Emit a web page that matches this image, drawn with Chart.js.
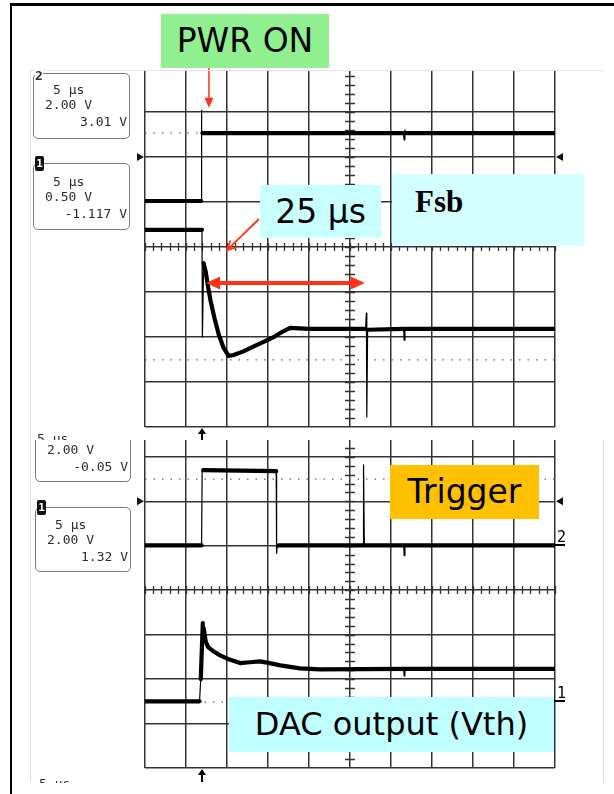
<!DOCTYPE html>
<html>
<head>
<meta charset="utf-8">
<script src="https://cdn.jsdelivr.net/npm/chart.js@4.4.1/dist/chart.umd.min.js"></script>
<style>
html, body { margin: 0; padding: 0; background: #fff; }
#page { position: relative; width: 614px; height: 794px; overflow: hidden; background: #fff; }
canvas { position: absolute; left: 0; }
#topScope { top: 0; }
#botScope { top: 440px; }
.rule { position: absolute; }
.screen { position: absolute; left: 30px; width: 110px; overflow: hidden; }
.info { position: absolute; box-sizing: border-box; border: 1px solid #7a7a7a; border-radius: 5px; background: #fff;
        font: 13px "DejaVu Sans Mono", monospace; color: #2c2c2c; }
.info span, .screen > span { position: absolute; white-space: pre; line-height: 13px; font: 13px "DejaVu Sans Mono", monospace; color: #2c2c2c; }
.chan { position: absolute; width: 9px; height: 15px; background: #111; color: #fff; border-radius: 2px;
        font: bold 11px "DejaVu Sans Mono", monospace; line-height: 15px; text-align: center; }
.note { position: absolute; z-index: 5; font-family: "DejaVu Sans", sans-serif; color: #000; text-align: center; white-space: nowrap; }
</style>
</head>
<body>
<div id="page">
  <canvas id="topScope" width="614" height="440"></canvas>
  <canvas id="botScope" width="614" height="354"></canvas>

  <div class="rule" style="left:10px;top:3px;width:604px;height:3px;background:#000;"></div>
  <div class="rule" style="left:10px;top:3px;width:2px;height:791px;background:#000;"></div>
  <div class="rule" style="left:30px;top:70px;width:574px;height:1px;background:#e4e4e4;"></div>
  <div class="rule" style="left:30px;top:70px;width:1px;height:713px;background:#dcdcdc;"></div>
  <div class="rule" style="left:603px;top:440px;width:1px;height:343px;background:#dcdcdc;"></div>

  <!-- channel info, upper screen -->
  <div class="screen" style="top:70px;height:370px;">
    <div class="info" style="left:3px;top:3px;width:97px;height:66px;">
      <span style="left:19px;top:8px;">5 μs</span>
      <span style="left:11px;top:23px;">2.00 V</span>
      <span style="right:2px;top:40px;">3.01 V</span>
    </div>
    <span style="left:5px;top:-2px;background:#fff;font-weight:bold;">2</span>
    <div class="info" style="left:3px;top:93px;width:97px;height:67px;">
      <span style="left:19px;top:10px;">5 μs</span>
      <span style="left:11px;top:25px;">0.50 V</span>
      <span style="right:2px;top:42px;">-1.117 V</span>
    </div>
    <div class="chan" style="left:5px;top:86px;">1</div>
    <span style="left:7px;top:361px;">5 μs</span>
  </div>

  <!-- channel info, lower screen -->
  <div class="screen" style="top:440px;height:343px;">
    <div class="info" style="left:5px;top:-20px;width:96px;height:62px;">
      <span style="left:11px;top:21px;">2.00 V</span>
      <span style="right:2px;top:38px;">-0.05 V</span>
    </div>
    <div class="info" style="left:5px;top:67px;width:96px;height:65px;">
      <span style="left:19px;top:9px;">5 μs</span>
      <span style="left:11px;top:24px;">2.00 V</span>
      <span style="right:2px;top:41px;">1.32 V</span>
    </div>
    <div class="chan" style="left:7px;top:60px;">1</div>
    <span style="left:9px;top:336px;">5 μs</span>
  </div>

  <div class="note" style="left:161px;top:14px;width:168px;height:54px;line-height:54px;font-size:33px;background:#90f090;">PWR ON</div>
  <div class="note" style="left:260px;top:185px;width:121px;height:53px;line-height:53px;font-size:33px;background:#c8ffff;">25 μs</div>
  <div class="note" style="left:392px;top:174px;width:192px;height:72px;background:#d4ffff;text-align:left;">
    <span style="position:absolute;left:23px;top:12px;font:bold 31px 'Liberation Serif', serif;line-height:31px;">Fsb</span>
  </div>
  <div class="note" style="left:390px;top:465px;width:149px;height:54px;line-height:54px;font-size:33px;background:#ffc000;">Trigger</div>
  <div class="note" style="left:229px;top:697px;width:325px;height:55px;line-height:55px;font-size:32px;background:#c0ffff;">DAC output (Vth)</div>
</div>

<script>
// time base: 5 µs/div, 10 divisions; vertical values are in screen divisions
const TIME_MIN = 0;
const TIME_MAX = 50;
const TIME_STEP = 5;
const DIV_LINES = [-4, -3, -2, -1, 0, 1, 2, 3];

// upper screen, channel 2 (power)
const topPwrT   = [0, 6.85, 6.88, 6.93, 7.0, 31.5, 31.6, 31.7, 31.8, 50];
const topPwrDiv = [1.02, 1.02, 3.04, 2.55, 2.53, 2.53, 2.38, 2.6, 2.53, 2.53];

// upper screen, channel 1 (Fsb)
const topFsbT   = [0, 6.95, 7.0, 7.15, 7.4, 7.7, 8.0, 8.5, 9.0, 9.6, 10.2, 10.8, 12.0, 13.4, 14.6, 15.8, 16.8, 17.7, 20.0,
                   26.9, 27.0, 27.05, 27.15, 31.55, 31.6, 31.7, 50];
const topFsbDiv = [0.38, 0.38, -2.0, -0.36, -0.55, -0.9, -1.2, -1.6, -1.95, -2.25, -2.42, -2.4, -2.32, -2.2, -2.1, -1.99, -1.88, -1.8, -1.82,
                   -1.82, -1.47, -3.78, -1.84, -1.82, -2.07, -1.82, -1.82];

// lower screen, channel 2 (trigger)
const botTrigT   = [0, 6.9, 6.97, 7.1, 16.0, 16.05, 16.1, 16.3, 26.6, 26.65, 26.75, 31.55, 31.6, 31.7, 50];
const botTrigDiv = [1.01, 1.01, 2.72, 2.7, 2.68, 0.83, 0.95, 1.01, 1.01, 2.82, 1.01, 1.01, 0.78, 1.01, 1.01];

// lower screen, channel 1 (DAC output)
const botDacT   = [0, 6.65, 6.8, 7.05, 7.15, 7.4, 7.7, 8.4, 9.1, 10.3, 11.6, 12.8, 14.0, 15.2, 16.5, 18.9, 21.3, 31.55, 31.6, 31.7, 50];
const botDacDiv = [-2.5, -2.5, -2.0, -0.74, -0.85, -1.15, -1.28, -1.38, -1.46, -1.56, -1.64, -1.62, -1.6, -1.64, -1.69, -1.76, -1.78, -1.77, -1.93, -1.77, -1.77];

// dotted reference levels
const topRefDiv = [2.53, -2.51];
const botRefDiv = [2.5, -2.52];

// markers and annotations (µs, div)
const TRIG_T = 6.95;
const GND_MARK_DIV = 2;
const botChanMarks = [['2', 1.01], ['1', -2.5]];
const topArrows = [
  { from: [7.8, 3.98], to: [7.8, 3.09], kind: 'filled' },
  { from: [13.9, 0.62], to: [10.0, -0.07], kind: 'open' },
  { from: [7.45, -0.8], to: [26.8, -0.8], kind: 'double' }
];

const GRID = '#333';
const RED = '#ff3214';

function trace(ts, vs) {
  return {
    data: ts.map((t, i) => ({ x: t, y: vs[i] })),
    showLine: true,
    borderColor: '#000',
    borderWidth: 4.2,
    borderCapStyle: 'round',
    borderJoinStyle: 'round',
    pointRadius: 0,
    segment: {
      borderWidth: c => Math.abs(c.p1.x - c.p0.x) < 1.8 ? 1.2 : 4.2
    }
  };
}

function refLine(v) {
  return {
    data: [{ x: TIME_MIN, y: v }, { x: TIME_MAX, y: v }],
    showLine: true,
    borderColor: '#666',
    borderWidth: 1.2,
    borderDash: [1.5, 7],
    pointRadius: 0
  };
}

function arrowHead(ctx, x0, y0, x1, y1, len, half, filled) {
  const ang = Math.atan2(y1 - y0, x1 - x0);
  const bx = x1 - len * Math.cos(ang), by = y1 - len * Math.sin(ang);
  const nx = -Math.sin(ang) * half, ny = Math.cos(ang) * half;
  ctx.beginPath();
  ctx.moveTo(bx + nx, by + ny);
  ctx.lineTo(x1, y1);
  ctx.lineTo(bx - nx, by - ny);
  if (filled) { ctx.closePath(); ctx.fill(); } else { ctx.stroke(); }
}

const scopeDecor = {
  id: 'scopeDecor',
  beforeDatasetsDraw(chart) {
    const { ctx, chartArea: a, scales: { x, y } } = chart;
    ctx.save();
    ctx.strokeStyle = GRID;
    ctx.lineWidth = 1.3;
    const cx = Math.round(x.getPixelForValue((TIME_MIN + TIME_MAX) / 2));
    const cy = Math.round(y.getPixelForValue(0));
    ctx.beginPath();
    for (let i = -20; i <= 20; i++) {
      const py = Math.round(y.getPixelForValue(i / 5)) + 0.5;
      if (py < a.top || py > a.bottom) continue;
      ctx.moveTo(cx - 5, py); ctx.lineTo(cx + 5, py);
    }
    for (let t = TIME_MIN; t <= TIME_MAX; t++) {
      const px = Math.round(x.getPixelForValue(t)) + 0.5;
      ctx.moveTo(px, cy - 4); ctx.lineTo(px, cy + 4);
    }
    ctx.stroke();

    // ground markers at both sides
    ctx.fillStyle = '#111';
    const gy = y.getPixelForValue(GND_MARK_DIV);
    ctx.beginPath();
    ctx.moveTo(a.left - 8, gy - 4); ctx.lineTo(a.left - 1, gy); ctx.lineTo(a.left - 8, gy + 4); ctx.closePath();
    ctx.moveTo(a.right + 8, gy - 4); ctx.lineTo(a.right + 1, gy); ctx.lineTo(a.right + 8, gy + 4); ctx.closePath();
    ctx.fill();
    ctx.restore();
  },
  afterDraw(chart, args, opts) {
    const { ctx, chartArea: a, scales: { x, y } } = chart;
    ctx.save();

    // trigger position arrow under the graticule
    const tx = Math.round(x.getPixelForValue(TRIG_T));
    ctx.fillStyle = '#000';
    ctx.fillRect(tx - 1, a.bottom + 5, 2, 9);
    ctx.beginPath();
    ctx.moveTo(tx - 4, a.bottom + 7); ctx.lineTo(tx, a.bottom + 1); ctx.lineTo(tx + 4, a.bottom + 7); ctx.closePath();
    ctx.fill();

    // channel numbers on the right edge
    ctx.font = '15px "DejaVu Sans Mono", monospace';
    ctx.textBaseline = 'alphabetic';
    (opts.chanMarks || []).forEach(([txt, v]) => {
      const py = Math.round(y.getPixelForValue(v));
      ctx.fillText(txt, a.right + 2, py - 3);
      ctx.fillRect(a.right - 1, py - 1, 11, 2);
    });

    // red annotation arrows
    ctx.strokeStyle = RED;
    ctx.fillStyle = RED;
    ctx.lineCap = 'butt';
    (opts.arrows || []).forEach(ar => {
      const x0 = x.getPixelForValue(ar.from[0]), y0 = y.getPixelForValue(ar.from[1]);
      const x1 = x.getPixelForValue(ar.to[0]), y1 = y.getPixelForValue(ar.to[1]);
      if (ar.kind === 'double') {
        ctx.lineWidth = 4;
        ctx.beginPath(); ctx.moveTo(x0 + 10, y0); ctx.lineTo(x1 - 10, y1); ctx.stroke();
        arrowHead(ctx, x1, y1, x0, y0, 14, 6.5, true);
        arrowHead(ctx, x0, y0, x1, y1, 14, 6.5, true);
      } else if (ar.kind === 'filled') {
        ctx.lineWidth = 1.5;
        ctx.beginPath(); ctx.moveTo(x0, y0); ctx.lineTo(x1, y1 - 6); ctx.stroke();
        arrowHead(ctx, x0, y0, x1, y1, 10, 4.5, true);
      } else {
        ctx.lineWidth = 1.8;
        ctx.beginPath(); ctx.moveTo(x0, y0); ctx.lineTo(x1, y1); ctx.stroke();
        arrowHead(ctx, x0, y0, x1, y1, 9, 4.5, false);
      }
    });
    ctx.restore();
  }
};

function scopeChart(id, yMax, padding, datasets, decor) {
  const gridOpts = { color: GRID, lineWidth: 1.5, drawTicks: false };
  return new Chart(document.getElementById(id), {
    type: 'scatter',
    data: { datasets },
    options: {
      responsive: false,
      animation: false,
      devicePixelRatio: 1,
      layout: { padding },
      events: [],
      plugins: { legend: { display: false }, tooltip: { enabled: false }, scopeDecor: decor },
      scales: {
        x: {
          type: 'linear', min: TIME_MIN, max: TIME_MAX,
          ticks: { display: false, stepSize: TIME_STEP },
          grid: gridOpts, border: { display: false }
        },
        y: {
          type: 'linear', min: -4, max: yMax,
          afterBuildTicks: s => { s.ticks = DIV_LINES.map(v => ({ value: v })); },
          ticks: { display: false },
          grid: gridOpts, border: { display: false }
        }
      }
    },
    plugins: [scopeDecor]
  });
}

scopeChart('topScope', 3.93, { left: 145, right: 59, top: 70, bottom: 13 },
  [trace(topPwrT, topPwrDiv), trace(topFsbT, topFsbDiv), ...topRefDiv.map(refLine)],
  { arrows: topArrows });

scopeChart('botScope', 3.38, { left: 145, right: 59, top: 0, bottom: 26 },
  [trace(botTrigT, botTrigDiv), trace(botDacT, botDacDiv), ...botRefDiv.map(refLine)],
  { chanMarks: botChanMarks });
</script>
</body>
</html>
